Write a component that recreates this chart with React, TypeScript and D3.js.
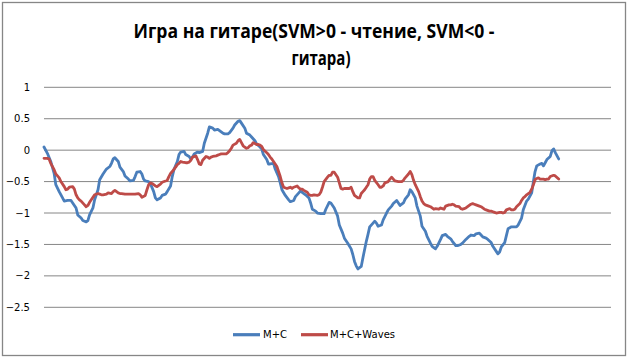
import React from "react";
import * as d3 from "d3";

const titleLines = ["Игра на гитаре(SVM>0 - чтение, SVM<0 -", "гитара)"];
const yTicks = [1, 0.5, 0, -0.5, -1, -1.5, -2, -2.5];
const seriesNames = ["M+C", "M+C+Waves"];
const seriesColors = ["#4A7EBB", "#BE4B48"];
const categoryCount = 336;

// [sample index, SVM value]
const mcSeries: [number, number][] = [
  [0,0.05],[2,-0.05],[4,-0.18],[6,-0.37],[7,-0.55],[9,-0.66],[11,-0.76],[12,-0.81],[14,-0.80],[16,-0.80],
  [17,-0.84],[19,-0.92],[20,-1.03],[22,-1.08],[23,-1.12],[25,-1.14],[26,-1.12],[27,-1.03],[29,-0.92],[30,-0.79],
  [32,-0.63],[33,-0.47],[35,-0.38],[37,-0.30],[39,-0.26],[40,-0.21],[41,-0.14],[42,-0.12],[44,-0.18],[45,-0.27],
  [47,-0.34],[48,-0.41],[50,-0.46],[51,-0.49],[53,-0.48],[54,-0.42],[55,-0.35],[57,-0.34],[58,-0.38],[59,-0.46],
  [60,-0.49],[62,-0.50],[63,-0.53],[65,-0.66],[66,-0.76],[67,-0.79],[69,-0.76],[70,-0.72],[72,-0.70],[73,-0.66],
  [75,-0.57],[76,-0.42],[77,-0.31],[79,-0.18],[80,-0.07],[81,-0.03],[83,-0.02],[84,-0.07],[86,-0.10],[87,-0.14],
  [88,-0.11],[89,-0.06],[91,-0.03],[92,-0.04],[94,-0.02],[95,0.11],[97,0.27],[98,0.37],[100,0.35],[101,0.32],
  [103,0.33],[104,0.31],[106,0.27],[107,0.26],[109,0.26],[110,0.28],[112,0.35],[113,0.40],[115,0.46],[116,0.47],
  [117,0.43],[119,0.35],[120,0.27],[122,0.24],[123,0.21],[125,0.15],[126,0.10],[128,0.05],[129,0.02],[130,-0.07],
  [132,-0.15],[133,-0.22],[134,-0.22],[136,-0.21],[137,-0.30],[139,-0.42],[140,-0.52],[141,-0.63],[143,-0.72],[145,-0.79],
  [146,-0.82],[148,-0.80],[149,-0.74],[151,-0.68],[152,-0.65],[153,-0.67],[155,-0.71],[157,-0.76],[158,-0.84],[159,-0.94],
  [161,-0.97],[162,-1.00],[164,-1.01],[166,-1.01],[167,-0.94],[169,-0.83],[170,-0.84],[172,-0.92],[174,-1.05],[175,-1.19],
  [177,-1.32],[178,-1.40],[180,-1.48],[182,-1.57],[183,-1.66],[184,-1.77],[185,-1.84],[186,-1.89],[188,-1.85],[189,-1.71],
  [190,-1.58],[191,-1.45],[192,-1.34],[193,-1.22],[195,-1.16],[196,-1.13],[197,-1.16],[198,-1.21],[200,-1.19],[201,-1.11],
  [203,-1.00],[204,-0.95],[206,-0.89],[207,-0.85],[209,-0.80],[210,-0.84],[211,-0.88],[213,-0.84],[214,-0.78],[216,-0.71],
  [217,-0.63],[218,-0.66],[220,-0.76],[221,-0.89],[223,-1.05],[224,-1.21],[226,-1.29],[227,-1.37],[229,-1.48],[230,-1.53],
  [232,-1.57],[233,-1.53],[235,-1.42],[236,-1.36],[238,-1.34],[239,-1.37],[241,-1.41],[242,-1.45],[244,-1.52],[245,-1.52],
  [247,-1.50],[248,-1.48],[250,-1.42],[252,-1.37],[253,-1.35],[255,-1.36],[256,-1.33],[258,-1.32],[259,-1.35],[260,-1.38],
  [262,-1.40],[263,-1.42],[265,-1.47],[266,-1.53],[268,-1.61],[269,-1.65],[270,-1.62],[271,-1.54],[273,-1.47],[274,-1.36],
  [275,-1.25],[277,-1.22],[278,-1.22],[280,-1.22],[281,-1.19],[283,-1.08],[284,-0.95],[286,-0.81],[287,-0.78],[289,-0.68],
  [290,-0.50],[291,-0.34],[292,-0.25],[294,-0.22],[295,-0.21],[296,-0.25],[297,-0.20],[298,-0.15],[300,-0.10],[301,-0.01],
  [302,0.02],[303,-0.04],[305,-0.14],
];

const mcWavesSeries: [number, number][] = [
  [0,-0.13],[2,-0.13],[3,-0.14],[4,-0.21],[6,-0.31],[7,-0.38],[8,-0.41],[9,-0.44],[10,-0.50],[12,-0.58],
  [13,-0.63],[14,-0.62],[15,-0.59],[17,-0.58],[18,-0.62],[19,-0.71],[20,-0.76],[21,-0.79],[22,-0.81],[24,-0.87],
  [25,-0.90],[26,-0.88],[27,-0.83],[28,-0.79],[29,-0.75],[30,-0.71],[32,-0.69],[33,-0.70],[34,-0.71],[35,-0.71],
  [37,-0.70],[38,-0.68],[40,-0.69],[41,-0.66],[42,-0.64],[44,-0.68],[45,-0.69],[46,-0.69],[48,-0.70],[49,-0.70],
  [51,-0.70],[52,-0.70],[54,-0.70],[56,-0.69],[57,-0.71],[58,-0.75],[60,-0.72],[61,-0.63],[62,-0.55],[63,-0.52],
  [64,-0.53],[66,-0.57],[67,-0.58],[68,-0.56],[69,-0.54],[70,-0.51],[72,-0.49],[73,-0.48],[74,-0.42],[75,-0.37],
  [76,-0.34],[78,-0.27],[79,-0.23],[80,-0.21],[81,-0.18],[82,-0.19],[84,-0.20],[85,-0.20],[86,-0.19],[87,-0.16],
  [88,-0.11],[90,-0.09],[91,-0.15],[92,-0.22],[93,-0.23],[94,-0.16],[96,-0.10],[97,-0.11],[98,-0.13],[99,-0.11],
  [100,-0.10],[102,-0.09],[103,-0.08],[104,-0.07],[105,-0.06],[106,-0.06],[108,-0.06],[109,-0.04],[110,-0.01],[111,0.03],
  [112,0.08],[114,0.11],[115,0.15],[116,0.17],[117,0.12],[118,0.07],[120,0.03],[121,0.04],[122,0.07],[123,0.08],
  [124,0.12],[126,0.09],[127,0.09],[128,0.08],[129,0.06],[130,0.01],[132,-0.04],[133,-0.07],[134,-0.11],[135,-0.14],
  [136,-0.18],[138,-0.26],[139,-0.34],[140,-0.42],[141,-0.52],[142,-0.59],[144,-0.61],[145,-0.60],[146,-0.59],[147,-0.61],
  [148,-0.59],[150,-0.57],[151,-0.60],[152,-0.62],[153,-0.62],[154,-0.64],[156,-0.67],[157,-0.71],[158,-0.72],[159,-0.72],
  [160,-0.71],[162,-0.72],[163,-0.71],[164,-0.67],[165,-0.59],[166,-0.50],[168,-0.43],[169,-0.40],[170,-0.40],[171,-0.35],
  [172,-0.35],[174,-0.43],[175,-0.52],[176,-0.61],[177,-0.62],[178,-0.61],[180,-0.61],[181,-0.61],[182,-0.59],[183,-0.66],
  [184,-0.72],[186,-0.76],[187,-0.76],[188,-0.69],[189,-0.66],[190,-0.63],[192,-0.55],[193,-0.46],[194,-0.42],[195,-0.42],
  [196,-0.48],[198,-0.55],[199,-0.59],[200,-0.59],[201,-0.57],[202,-0.52],[204,-0.50],[205,-0.46],[206,-0.43],[207,-0.46],
  [208,-0.49],[210,-0.50],[211,-0.50],[212,-0.50],[213,-0.48],[214,-0.44],[216,-0.38],[217,-0.34],[218,-0.39],[219,-0.48],
  [220,-0.55],[222,-0.66],[223,-0.74],[224,-0.81],[225,-0.85],[226,-0.87],[228,-0.89],[229,-0.90],[230,-0.92],[231,-0.94],
  [232,-0.93],[234,-0.94],[235,-0.92],[236,-0.93],[237,-0.94],[238,-0.89],[240,-0.87],[241,-0.87],[242,-0.86],[243,-0.87],
  [244,-0.89],[246,-0.90],[247,-0.93],[248,-0.94],[249,-0.93],[250,-0.92],[252,-0.88],[253,-0.86],[254,-0.85],[255,-0.86],
  [256,-0.87],[258,-0.89],[259,-0.90],[260,-0.92],[261,-0.94],[262,-0.95],[264,-0.97],[265,-0.97],[266,-0.98],[267,-0.99],
  [268,-1.00],[270,-0.99],[271,-0.99],[272,-1.00],[273,-0.99],[274,-0.95],[276,-0.93],[277,-0.95],[278,-0.95],[279,-0.94],
  [280,-0.90],[282,-0.85],[283,-0.80],[284,-0.76],[285,-0.74],[286,-0.71],[288,-0.67],[289,-0.62],[290,-0.55],[291,-0.47],
  [292,-0.45],[293,-0.44],[294,-0.46],[296,-0.46],[297,-0.47],[298,-0.46],[299,-0.46],[300,-0.42],[302,-0.40],[303,-0.41],
  [305,-0.46],
];

const W = 629;
const H = 358;
const plot = { left: 44, right: 611, top: 87.3, bottom: 307.3 };
const labelFont = "'DejaVu Sans', Verdana, sans-serif";

export default function App() {
  const x = d3.scaleLinear().domain([0, categoryCount]).range([plot.left, plot.right]);
  const y = d3.scaleLinear().domain([-2.5, 1]).range([plot.bottom, plot.top]);
  const line = d3
    .line<[number, number]>()
    .x((d) => x(d[0]))
    .y((d) => y(d[1]))
    .curve(d3.curveLinear);
  const allSeries = [mcSeries, mcWavesSeries];

  const legendY = 334.7;
  const legendItems = [
    { x0: 233, x1: 260, tx: 263 },
    { x0: 301, x1: 328, tx: 330 },
  ];

  return (
    <svg
      width={W}
      height={H}
      style={{ position: "absolute", left: 0, top: 0, display: "block", background: "#fff" }}
    >
      <rect x={0} y={0} width={W} height={H} fill="#fff" />
      <rect x={2.5} y={2.5} width={623} height={353} fill="#fff" stroke="#868686" strokeWidth={1.3} />
      <g fontFamily="'Open Sans', 'Liberation Sans', sans-serif" fontWeight={700} fontSize={20} fill="#000" textAnchor="middle">
        <text x={314} y={38} textLength={361} lengthAdjust="spacingAndGlyphs">{titleLines[0]}</text>
        <text x={321} y={65} textLength={59} lengthAdjust="spacingAndGlyphs">{titleLines[1]}</text>
      </g>
      <g>
        {yTicks.map((t) => (
          <line key={t} x1={plot.left} x2={plot.right} y1={y(t)} y2={y(t)} stroke="#868686" strokeWidth={1} />
        ))}
      </g>
      <g fontFamily={labelFont} fontSize={10} fill="#000" textAnchor="end">
        {yTicks.map((t) => (
          <text key={t} x={30} y={y(t)} dy="0.35em">
            {d3.format("")(t)}
          </text>
        ))}
      </g>
      <g fill="none" strokeLinejoin="round" strokeLinecap="round">
        {allSeries.map((s, i) => (
          <path key={i} d={line(s) || ""} stroke={seriesColors[i]} strokeWidth={2.8} />
        ))}
      </g>
      <g fontFamily={labelFont} fontSize={10} fill="#000">
        {legendItems.map((it, i) => (
          <g key={i}>
            <line x1={it.x0} x2={it.x1} y1={legendY} y2={legendY} stroke={seriesColors[i]} strokeWidth={3.2} />
            <text x={it.tx} y={legendY} dy="0.35em">{seriesNames[i]}</text>
          </g>
        ))}
      </g>
    </svg>
  );
}
